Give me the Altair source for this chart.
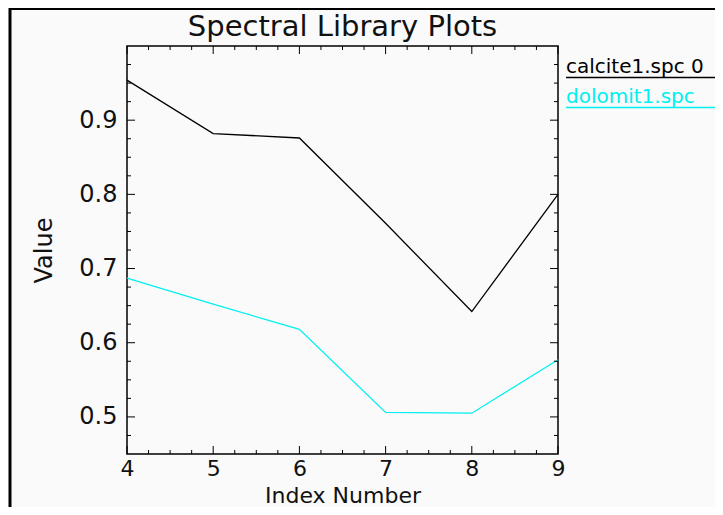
import altair as alt
import pandas as pd

# ---- data ----
index_numbers = [4, 5, 6, 7, 8, 9]
calcite_values = [0.954, 0.882, 0.876, 0.761, 0.642, 0.800]
dolomit_values = [0.687, 0.652, 0.618, 0.506, 0.505, 0.577]
series_names = ["calcite1.spc", "dolomit1.spc"]
series_colors = ["#000000", "#00f0f0"]
legend_texts = ["calcite1.spc 0", "dolomit1.spc"]
chart_title = "Spectral Library Plots"

x_major = [4, 5, 6, 7, 8, 9]
x_minor = [4.25, 4.5, 4.75, 5.25, 5.5, 5.75, 6.25, 6.5, 6.75,
           7.25, 7.5, 7.75, 8.25, 8.5, 8.75]
y_major = [0.5, 0.6, 0.7, 0.8, 0.9]
y_minor = [0.475, 0.525, 0.55, 0.575, 0.625, 0.65, 0.675, 0.725, 0.75,
           0.775, 0.825, 0.85, 0.875, 0.925, 0.95, 0.975]

W, H = 431, 408
TOP = 38
FONT = "DejaVu Sans"
TXT = "#111111"

rows = []
for name, vals in zip(series_names, [calcite_values, dolomit_values]):
    for i, v in zip(index_numbers, vals):
        rows.append({"Index": i, "Value": v, "series": name})
df = pd.DataFrame(rows)

xscale = alt.Scale(domain=[4, 9], nice=False, zero=False)
yscale = alt.Scale(domain=[0.45, 1.0], nice=False, zero=False)

xaxis = alt.Axis(values=x_major, format="d", title="Index Number", domain=False, ticks=False,
                 grid=False, labelFontSize=22, labelFont=FONT, labelColor=TXT,
                 labelPadding=4, titleFontSize=22, titleFont=FONT, titleFontWeight="normal",
                 titleColor=TXT, titleBaseline="alphabetic", titleY=48, labelFlush=False)
yaxis = alt.Axis(values=y_major, format=".1f", title="Value", domain=False, ticks=False,
                 grid=False, labelFontSize=24, labelFont=FONT, labelColor=TXT,
                 labelPadding=10, titleFontSize=24, titleFont=FONT, titleFontWeight="normal",
                 titleColor=TXT, titlePadding=22, labelFlush=False)

lines = alt.Chart(df).mark_line(strokeWidth=1.3).encode(
    x=alt.X("Index:Q", scale=xscale, axis=xaxis),
    y=alt.Y("Value:Q", scale=yscale, axis=yaxis),
    color=alt.Color("series:N", scale=alt.Scale(domain=series_names, range=series_colors), legend=None),
)

def xticks(vals, length):
    d = pd.DataFrame({"Index": vals})
    bottom = alt.Chart(d).mark_rule(color="black", strokeWidth=1).encode(
        x=alt.X("Index:Q", scale=xscale, axis=xaxis), y=alt.value(H), y2=alt.value(H - length))
    top = alt.Chart(d).mark_rule(color="black", strokeWidth=1).encode(
        x=alt.X("Index:Q", scale=xscale, axis=xaxis), y=alt.value(0), y2=alt.value(length))
    return [bottom, top]

def yticks(vals, length):
    d = pd.DataFrame({"Value": vals})
    left = alt.Chart(d).mark_rule(color="black", strokeWidth=1).encode(
        y=alt.Y("Value:Q", scale=yscale, axis=yaxis), x=alt.value(0), x2=alt.value(length))
    right = alt.Chart(d).mark_rule(color="black", strokeWidth=1).encode(
        y=alt.Y("Value:Q", scale=yscale, axis=yaxis), x=alt.value(W), x2=alt.value(W - length))
    return [left, right]

one = pd.DataFrame({"a": [0]})
legend_layers = []
for k, (txt, col) in enumerate(zip(legend_texts, series_colors)):
    base_y = 27 + 30 * k
    legend_layers.append(alt.Chart(one).mark_text(
        align="left", baseline="alphabetic", fontSize=20, font=FONT, color=col).encode(
        x=alt.value(W + 8), y=alt.value(base_y), text=alt.value(txt)))
    legend_layers.append(alt.Chart(one).mark_rule(color=col, strokeWidth=1.5).encode(
        x=alt.value(W + 8), x2=alt.value(W + 170), y=alt.value(base_y + 4.5)))

title_layer = alt.Chart(one).mark_text(
    align="center", baseline="alphabetic", fontSize=29, font=FONT, color=TXT).encode(
    x=alt.value(W / 2), y=alt.value(-10), text=alt.value(chart_title))

border = [
    alt.Chart(one).mark_rule(color="black", strokeWidth=3).encode(
        x=alt.value(-117), y=alt.value(-TOP - 1), y2=alt.value(H + 70)),
    alt.Chart(one).mark_rule(color="black", strokeWidth=3).encode(
        x=alt.value(-118), x2=alt.value(W + 170), y=alt.value(-TOP + 0.5)),
]

layers = ([lines] + xticks(x_major, 8) + xticks(x_minor, 4) + yticks(y_major, 8)
          + yticks(y_minor, 4) + legend_layers + [title_layer] + border)

chart = alt.layer(*layers).properties(
    width=W, height=H,
    autosize=alt.AutoSizeParams(type="none"),
    padding={"left": 119, "top": TOP, "right": 157, "bottom": 53},
    background="#fafafa",
).configure_view(stroke="black", strokeWidth=1.5)

chart.save("out.html", embed_options={"renderer": "svg", "actions": False})
